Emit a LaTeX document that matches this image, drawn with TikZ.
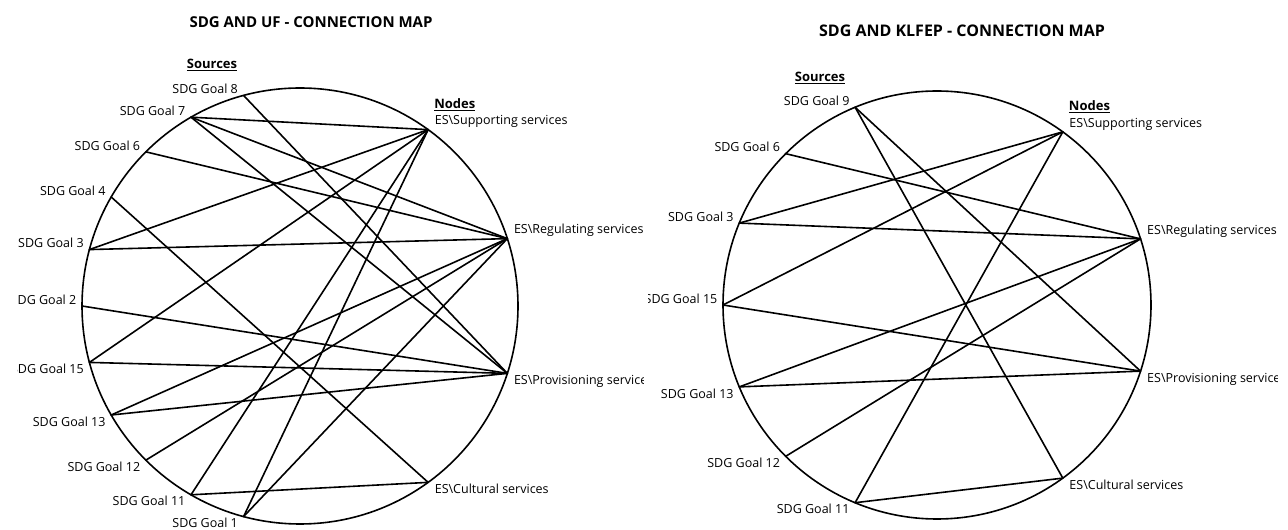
\documentclass[tikz,border=0pt]{standalone}
\usepackage{fontspec}
\setmainfont{Open Sans}

\tikzset{
  mapline/.style={line width=1.6pt, line cap=round},
  goallabel/.style={font=\fontsize{12.5}{14}\selectfont, inner sep=1.5pt},
  esl/.style={font=\fontsize{12.5}{14}\selectfont, inner sep=1.5pt},
  listhead/.style={font=\fontsize{13}{15}\selectfont\bfseries, inner sep=1pt},
  maptitle/.style={font=\fontsize{15}{17}\selectfont\bfseries, inner sep=1pt},
}

\begin{document}
\begin{tikzpicture}[x=1pt,y=1pt]
\useasboundingbox (0,0) rectangle (1288,530);
\fill[white] (0,0) rectangle (1288,530);

% SDG and UF
\node[maptitle] (titleUF) at (311,508) {SDG AND UF - CONNECTION MAP};
\begin{scope}
\clip (17,0) rectangle (643,530);
\begin{scope}[shift={(300,224)}]
\draw[mapline] (0,0) circle (218);
\foreach \g [count=\i] in {8,7,6,4,3,2} {
  \coordinate (L\g) at ({90+15*\i}:218);
  \node[goallabel, anchor=south east, xshift=-4pt] (Llab\g) at (L\g) {SDG Goal \g};
}
\foreach \g [count=\i from 7] in {15,13,12,11,1} {
  \coordinate (L\g) at ({90+15*\i}:218);
  \node[goallabel, anchor=north east, xshift=-4pt] (Llab\g) at (L\g) {SDG Goal \g};
}
\foreach \n/\a/\anc/\txt in {Sup/54/south west/Supporting services,Reg/18/south west/Regulating services,Prov/-18/north west/Provisioning services,Cult/-54/north west/Cultural services} {
  \coordinate (LN\n) at (\a:218);
  \node[esl, anchor=\anc, xshift=5pt] (LNlab\n) at (LN\n) {ES\textbackslash\txt};
}
\end{scope}
\node[listhead, anchor=south west] (nodesUF) at ([yshift=2pt]LNlabSup.north west) {\underline{Nodes}};
\node[listhead] (sourcesUF) at (212,465) {\underline{Sources}};
\foreach \s/\t in {7/Sup,3/Sup,15/Sup,11/Sup,1/Sup,
                   7/Reg,6/Reg,3/Reg,13/Reg,12/Reg,1/Reg,
                   8/Prov,7/Prov,2/Prov,15/Prov,13/Prov,
                   4/Cult,11/Cult}
  \draw[mapline] (L\s) -- (LN\t);
\end{scope}

% SDG and KLFEP
\node[maptitle, font=\fontsize{16}{18}\selectfont\bfseries] (titleKL) at (962,499) {SDG AND KLFEP - CONNECTION MAP};
\begin{scope}
\clip (648,0) rectangle (1277,530);
\begin{scope}[shift={(937,225)}]
\draw[mapline] (0,0) circle (214);
\foreach \g [count=\i] in {9,6,3,15} {
  \coordinate (R\g) at ({90+22.5*\i}:214);
  \node[goallabel, anchor=south east, xshift=-4pt] (Rlab\g) at (R\g) {SDG Goal \g};
}
\foreach \g [count=\i from 5] in {13,12,11} {
  \coordinate (R\g) at ({90+22.5*\i}:214);
  \node[goallabel, anchor=north east, xshift=-4pt] (Rlab\g) at (R\g) {SDG Goal \g};
}
\foreach \n/\a/\anc/\txt in {Sup/54/south west/Supporting services,Reg/18/south west/Regulating services,Prov/-18/north west/Provisioning services,Cult/-54/north west/Cultural services} {
  \coordinate (RN\n) at (\a:214);
  \node[esl, anchor=\anc, xshift=5pt] (RNlab\n) at (RN\n) {ES\textbackslash\txt};
}
\end{scope}
\node[listhead, anchor=south west] (nodesKL) at ([yshift=2pt]RNlabSup.north west) {\underline{Nodes}};
\node[listhead] (sourcesKL) at (820,452) {\underline{Sources}};
\foreach \s/\t in {3/Sup,15/Sup,11/Sup,
                   6/Reg,3/Reg,13/Reg,12/Reg,
                   9/Prov,15/Prov,13/Prov,
                   9/Cult,11/Cult}
  \draw[mapline] (R\s) -- (RN\t);
\end{scope}
\end{tikzpicture}
\end{document}
